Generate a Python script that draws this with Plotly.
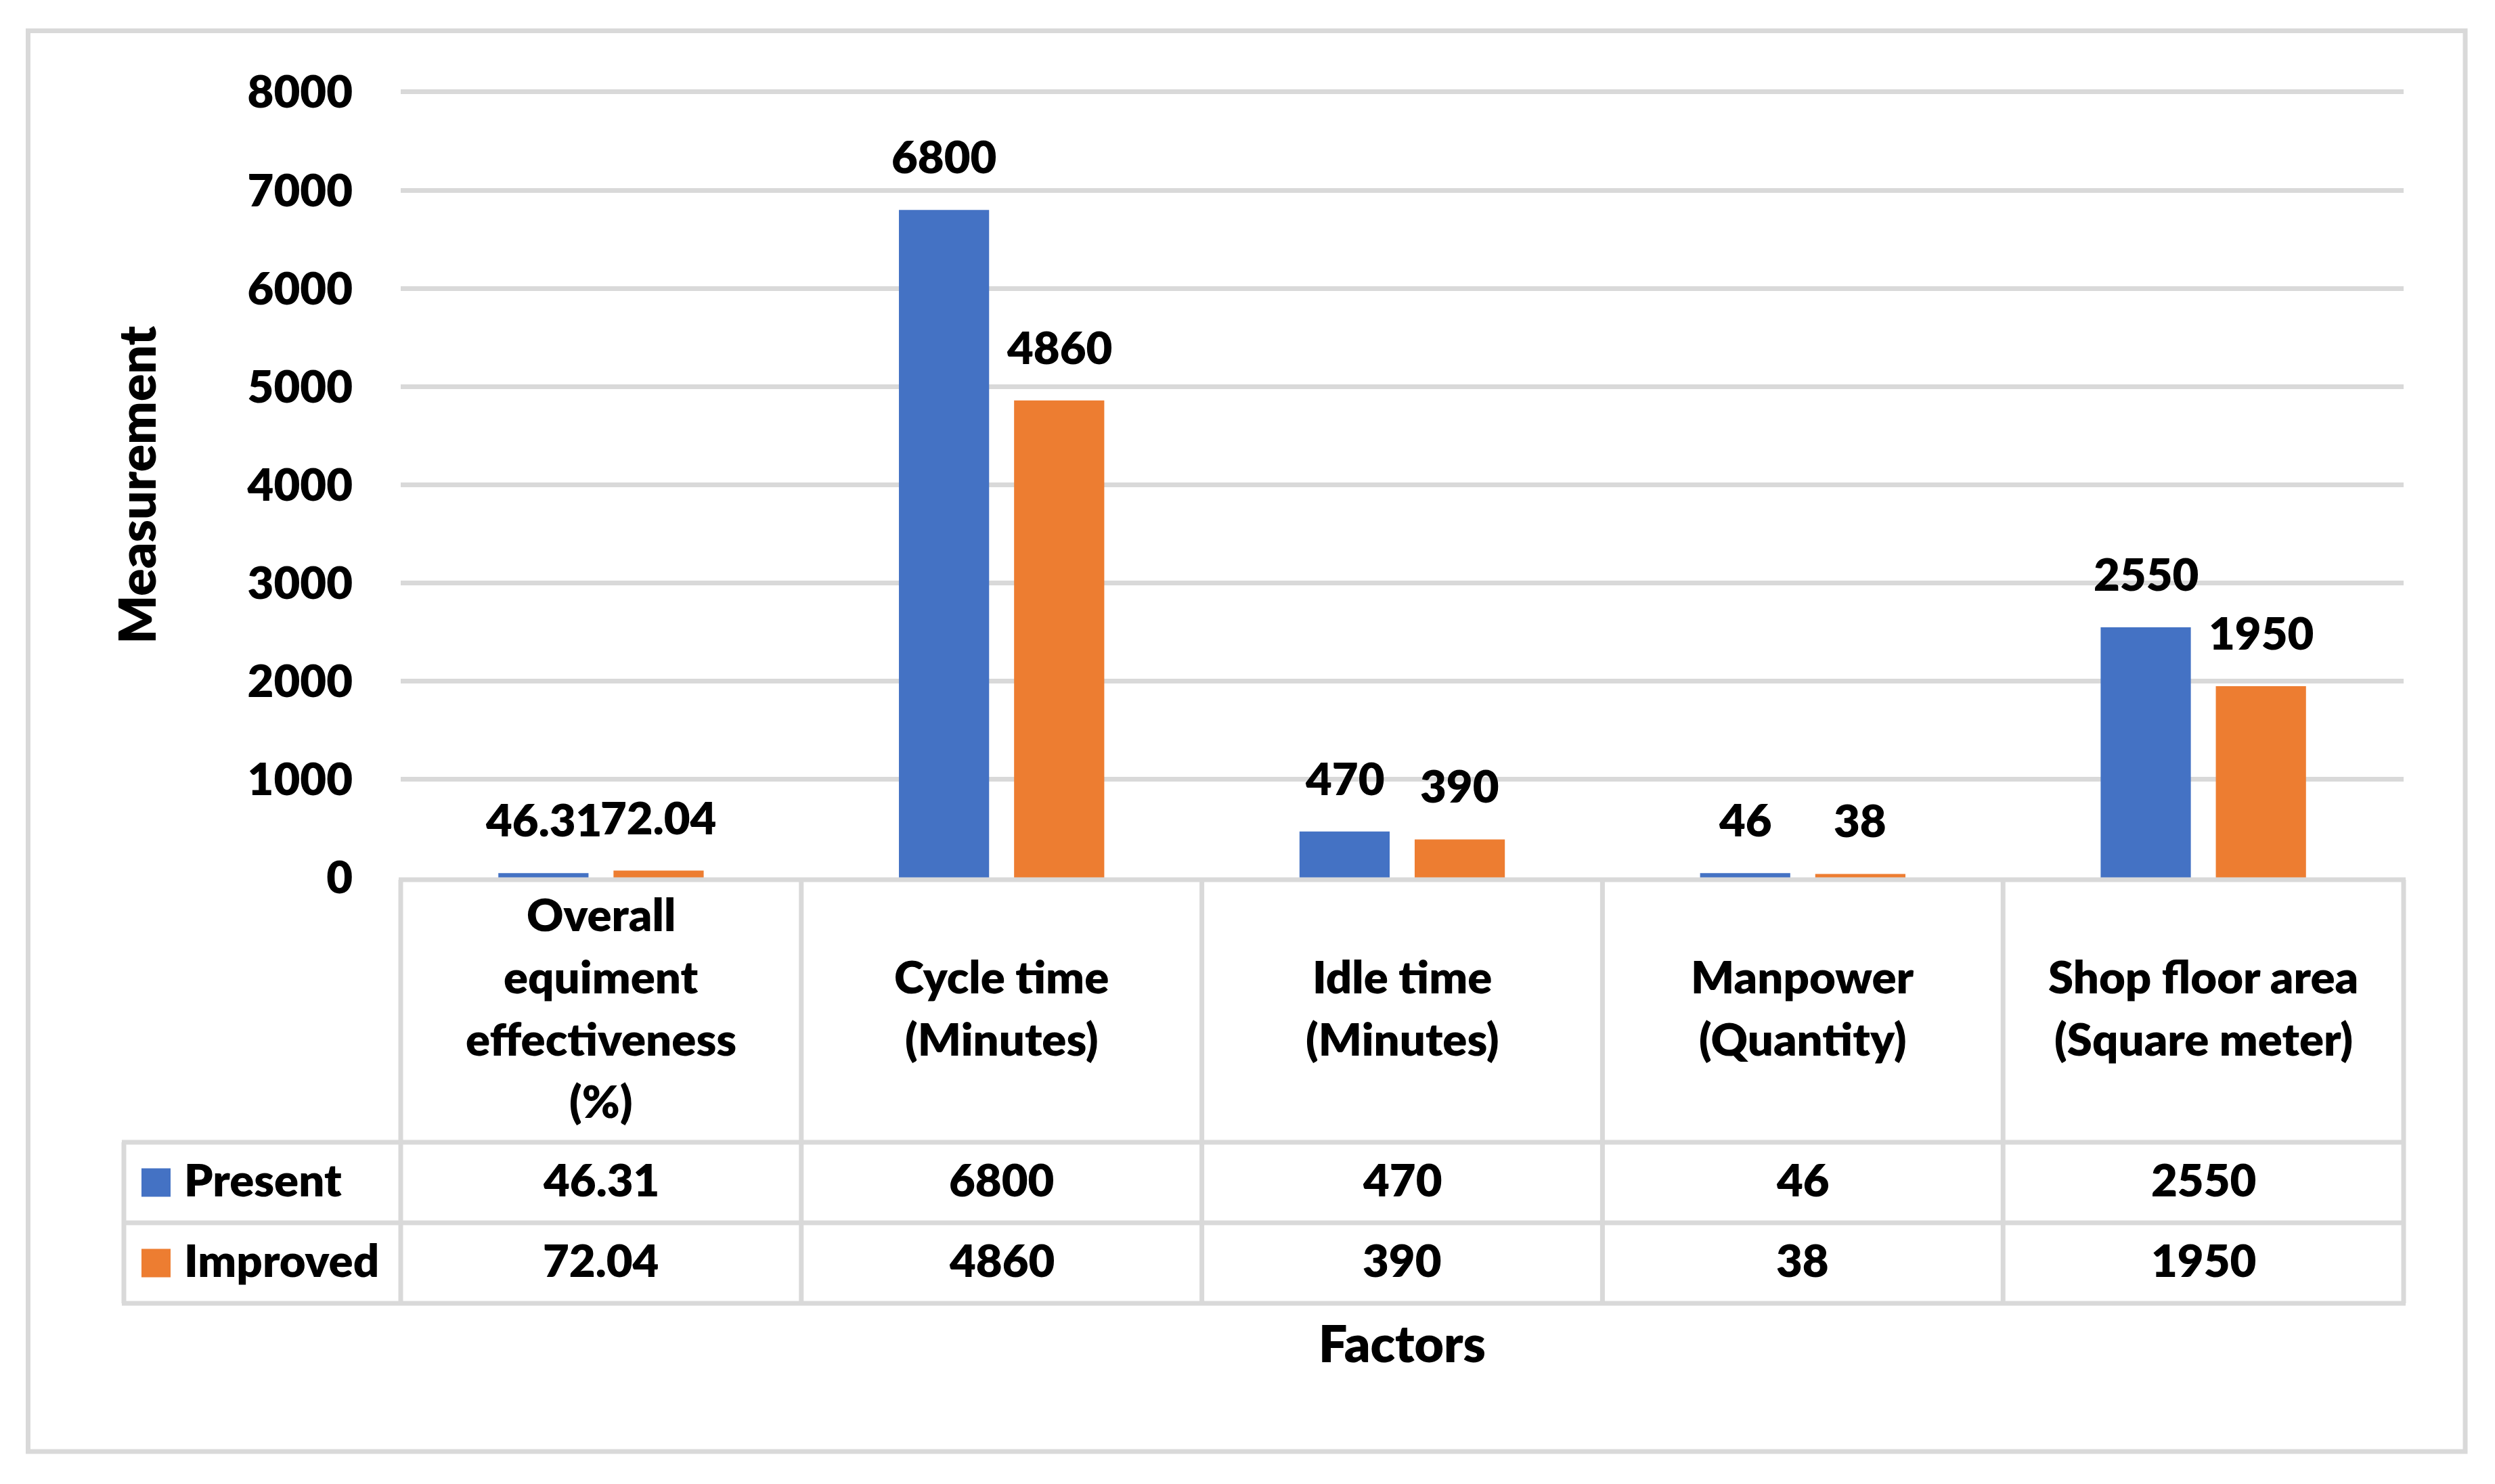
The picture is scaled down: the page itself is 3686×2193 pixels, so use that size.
import plotly.graph_objects as go

# ---------------- data ----------------
categories = [
    "Overall equiment effectiveness (%)",
    "Cycle time (Minutes)",
    "Idle time (Minutes)",
    "Manpower (Quantity)",
    "Shop floor area (Square meter)",
]
header_lines = [
    ["Overall", "equiment", "effectiveness", "(%)"],
    ["Cycle time", "(Minutes)"],
    ["Idle time", "(Minutes)"],
    ["Manpower", "(Quantity)"],
    ["Shop floor area", "(Square meter)"],
]
present = [46.31, 6800, 470, 46, 2550]
improved = [72.04, 4860, 390, 38, 1950]
series_names = ["Present", "Improved"]
y_ticks = [0, 1000, 2000, 3000, 4000, 5000, 6000, 7000, 8000]
y_title = "Measurement"
x_title = "Factors"

# ---------------- style / layout ----------------
W, H = 3686, 2193
L, R, T, B = 592, 135, 130, 896
PW, PH = W - L - R, H - T - B
Y_MAX = 8041.3          # a little head-room so the 8000 gridline is drawn
BLUE, ORANGE = "#4472C4", "#ED7D31"
GRID = "#D9D9D9"
FONT = "Lato"
FS = 67
FS_TITLE = 75
WEIGHT = 800
TXT_SHIFT = 6


def px_x(px):
    return (px - L) / PW


def px_y(py):
    return (H - B - py) / PH


def fmt(v):
    return f"{v:g}"


def bold_font(size=FS):
    return dict(size=size, color="black", family=FONT, weight=WEIGHT)


fig = go.Figure()
fig.add_trace(go.Bar(x=categories, y=present, name=series_names[0],
                     marker=dict(color=BLUE, line=dict(width=0))))
fig.add_trace(go.Bar(x=categories, y=improved, name=series_names[1],
                     marker=dict(color=ORANGE, line=dict(width=0))))

annotations = []
shapes = []

# data labels above bars
for vals, dx in ((present, -85), (improved, 85)):
    for c, v in zip(categories, vals):
        annotations.append(dict(x=c, y=v, xref="x", yref="y", text=fmt(v),
                                showarrow=False, xshift=dx, yshift=80,
                                xanchor="center", yanchor="middle", font=bold_font()))

# table geometry (pixels)
col_w = PW / 5
top_y, head_bot, row1_bot, row2_bot = 1300, 1688, 1807, 1926
leg_left = 183
line_style = dict(color=GRID, width=7)

# horizontal lines
shapes.append(dict(type="line", xref="paper", yref="paper", x0=px_x(L - 3), x1=px_x(L + PW + 3),
                   y0=px_y(top_y), y1=px_y(top_y), line=line_style, layer="above"))
for yy in (head_bot, row1_bot, row2_bot):
    shapes.append(dict(type="line", xref="paper", yref="paper", x0=px_x(leg_left - 3), x1=px_x(L + PW + 3),
                       y0=px_y(yy), y1=px_y(yy), line=line_style, layer="above"))
# vertical lines
for k in range(6):
    xx = L + k * col_w
    shapes.append(dict(type="line", xref="paper", yref="paper", x0=px_x(xx), x1=px_x(xx),
                       y0=px_y(top_y), y1=px_y(row2_bot), line=line_style, layer="above"))
shapes.append(dict(type="line", xref="paper", yref="paper", x0=px_x(leg_left), x1=px_x(leg_left),
                   y0=px_y(head_bot), y1=px_y(row2_bot), line=line_style, layer="above"))

# header labels (category names)
head_c = (top_y + head_bot) / 2
line_gap = 92
for c, lines in zip(categories, header_lines):
    n = len(lines)
    for i, ln in enumerate(lines):
        yy = head_c + (i - (n - 1) / 2) * line_gap
        annotations.append(dict(x=c, y=px_y(yy), xref="x", yref="paper", text=ln, showarrow=False,
                                xanchor="center", yanchor="middle", yshift=TXT_SHIFT, font=bold_font()))

# table rows: legend keys + values
row_centers = [(head_bot + row1_bot) / 2, (row1_bot + row2_bot) / 2]
for name, color, vals, rc in zip(series_names, (BLUE, ORANGE), (present, improved), row_centers):
    shapes.append(dict(type="rect", xref="paper", yref="paper", x0=px_x(209), x1=px_x(252),
                       y0=px_y(rc - 21), y1=px_y(rc + 21), fillcolor=color, line=dict(width=0),
                       layer="above"))
    annotations.append(dict(x=px_x(270), y=px_y(rc), xref="paper", yref="paper", text=name,
                            showarrow=False, xanchor="left", yanchor="middle", yshift=TXT_SHIFT,
                            font=bold_font()))
    for c, v in zip(categories, vals):
        annotations.append(dict(x=c, y=px_y(rc), xref="x", yref="paper", text=fmt(v), showarrow=False,
                                xanchor="center", yanchor="middle", yshift=TXT_SHIFT, font=bold_font()))

# axis titles
annotations.append(dict(x=px_x(200), y=px_y((136 + H - B) / 2), xref="paper", yref="paper", text=y_title,
                        textangle=-90, showarrow=False, xanchor="center", yanchor="middle",
                        font=bold_font(FS_TITLE)))
annotations.append(dict(x=px_x(L + PW / 2), y=px_y(1990), xref="paper", yref="paper", text=x_title,
                        showarrow=False, xanchor="center", yanchor="middle", yshift=TXT_SHIFT,
                        font=bold_font(FS_TITLE)))

# outer chart border
shapes.append(dict(type="rect", xref="paper", yref="paper", x0=px_x(41.5), x1=px_x(3642),
                   y0=px_y(45.5), y1=px_y(2145), line=dict(color=GRID, width=7), fillcolor="rgba(0,0,0,0)",
                   layer="above"))

fig.update_layout(
    width=W, height=H,
    margin=dict(l=L, r=R, t=T, b=B, pad=0),
    paper_bgcolor="white", plot_bgcolor="white",
    barmode="group", bargap=0.425, bargroupgap=0.217,
    showlegend=False,
    font=bold_font(),
    xaxis=dict(showticklabels=False, showgrid=False, zeroline=False, showline=False,
               ticks="", range=[-0.5, 4.5]),
    yaxis=dict(range=[0, Y_MAX], tickvals=y_ticks, showgrid=True, gridcolor=GRID, gridwidth=7,
               zeroline=False, showline=False, ticks="", ticklabelstandoff=70,
               tickfont=bold_font()),
    annotations=annotations,
    shapes=shapes,
)

fig.write_html("out.html", config={"displayModeBar": False},
               post_script="document.body.style.margin='0px';")
